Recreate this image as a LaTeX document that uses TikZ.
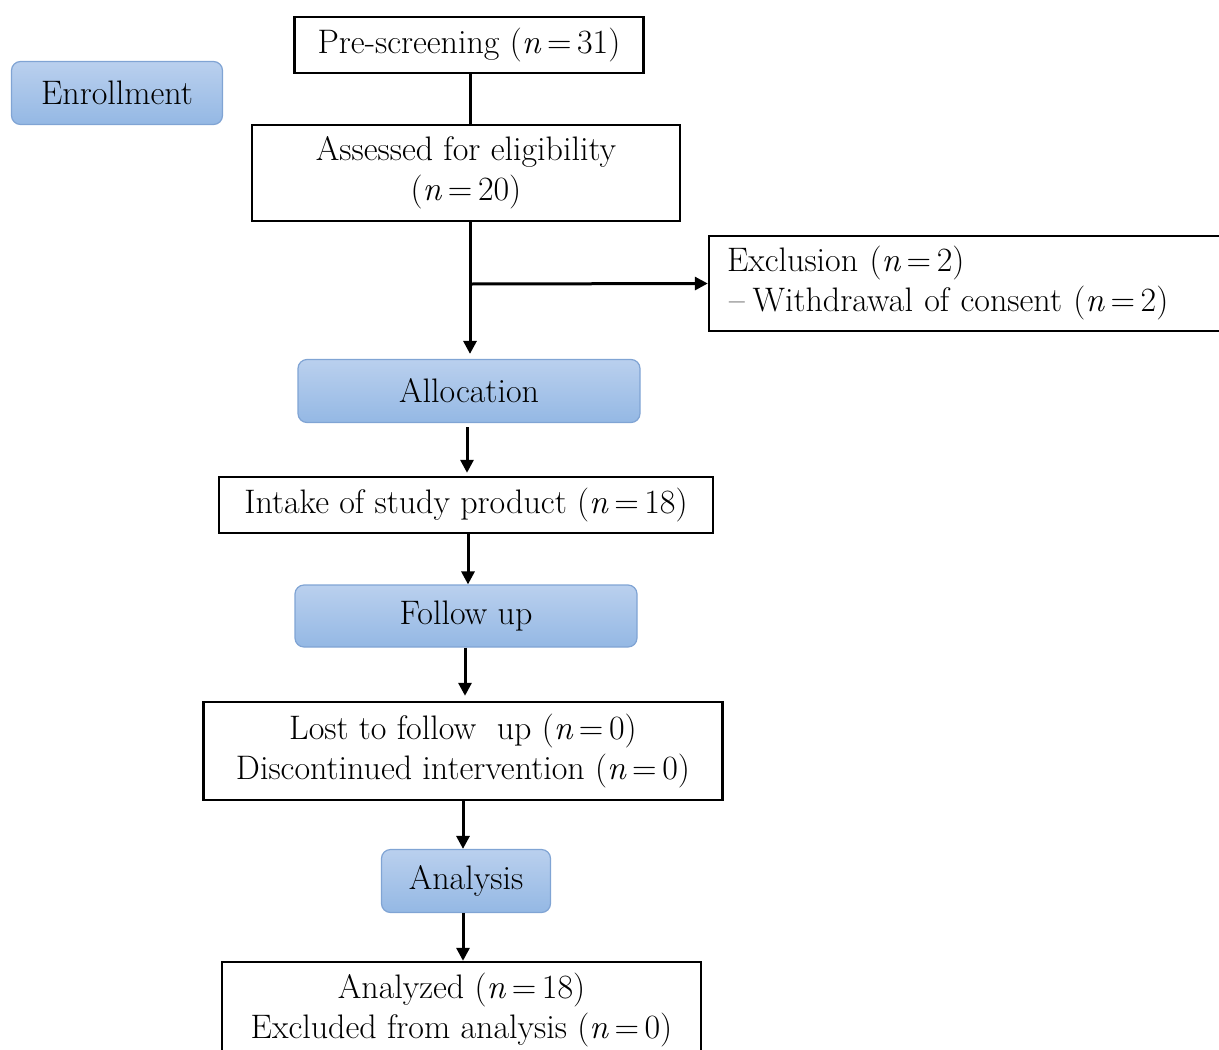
\documentclass[tikz,border=0pt]{standalone}
\usepackage{tikz}
\usepackage{xcolor}
\usetikzlibrary{arrows.meta}

\definecolor{stagetop}{RGB}{186,208,238}
\definecolor{stagebottom}{RGB}{148,184,228}
\definecolor{stageedge}{RGB}{128,164,212}

\newcommand{\nval}[1]{(\textit{n}\,=\,#1)}

\tikzset{
  plainbox/.style={draw=black, line width=2.4pt, inner sep=0pt, align=center},
  stagebox/.style={draw=stageedge, line width=1.2pt, rounded corners=9pt,
    top color=stagetop, bottom color=stagebottom, inner sep=0pt},
  flow/.style={line width=3pt, -{Triangle[width=13pt,length=13pt]}},
}

\begin{document}
\begin{tikzpicture}[x=1pt,y=-1pt,font=\fontsize{34}{40}\selectfont]
        \useasboundingbox (0,0) rectangle (1219,1050);
        \clip (0,0) rectangle (1219,1050);

        % enrollment
        \node[stagebox, minimum width=211pt, minimum height=63pt] (enroll) at (117,93) {Enrollment};
        \node[plainbox, minimum width=349pt, minimum height=56pt] (prescreen) at (469,45) {Pre-screening \nval{31}};
        \node[plainbox, minimum width=428pt, minimum height=96pt] (assess) at (466,173) {Assessed for eligibility\\\nval{20}};
        \node[plainbox, text width=495pt, inner xsep=18pt, minimum height=95pt, align=left] (excl) at (974.5,283.5)
            {Exclusion \nval{2}\\\hspace*{2pt}--\hspace{8pt}Withdrawal of consent \nval{2}};

        % allocation
        \node[stagebox, minimum width=342pt, minimum height=63pt] (alloc) at (469,391) {Allocation};
        \node[plainbox, minimum width=494pt, minimum height=56pt] (intake) at (466,505) {Intake of study product \nval{18}};

        % follow up
        \node[stagebox, minimum width=342pt, minimum height=62pt] (follow) at (466,616) {Follow up};
        \node[plainbox, minimum width=519pt, minimum height=98pt] (lost) at (463,751)
            {Lost to follow\ \ up \nval{0}\\Discontinued intervention \nval{0}};

        % analysis
        \node[stagebox, minimum width=169pt, minimum height=63pt] (analysis) at (466,881) {Analysis};
        \node[plainbox, minimum width=479pt, minimum height=96pt] (analyzed) at (461.5,1010)
            {Analyzed \nval{18}\\Excluded from analysis \nval{0}};

        % connectors
        \coordinate (split) at (470,284);
        \draw[line width=3pt] (prescreen.south -| split) -- (assess.north -| split);
        \draw[flow, shorten >=5pt] (assess.south -| split) -- (alloc.north -| split);
        \draw[flow] (split) -- (excl.west);
        \draw[flow, shorten <=4pt, shorten >=3pt] (alloc.south -| 467,0) -- (intake.north -| 467,0);
        \draw[flow] (intake.south -| 468,0) -- (follow.north -| 468,0);
        \draw[flow, shorten >=5pt] (follow.south -| 465,0) -- (lost.north -| 465,0);
        \draw[flow] (lost.south -| 463,0) -- (analysis.north -| 463,0);
        \draw[flow] (analysis.south -| 463,0) -- (analyzed.north -| 463,0);
    \end{tikzpicture}
\end{document}
